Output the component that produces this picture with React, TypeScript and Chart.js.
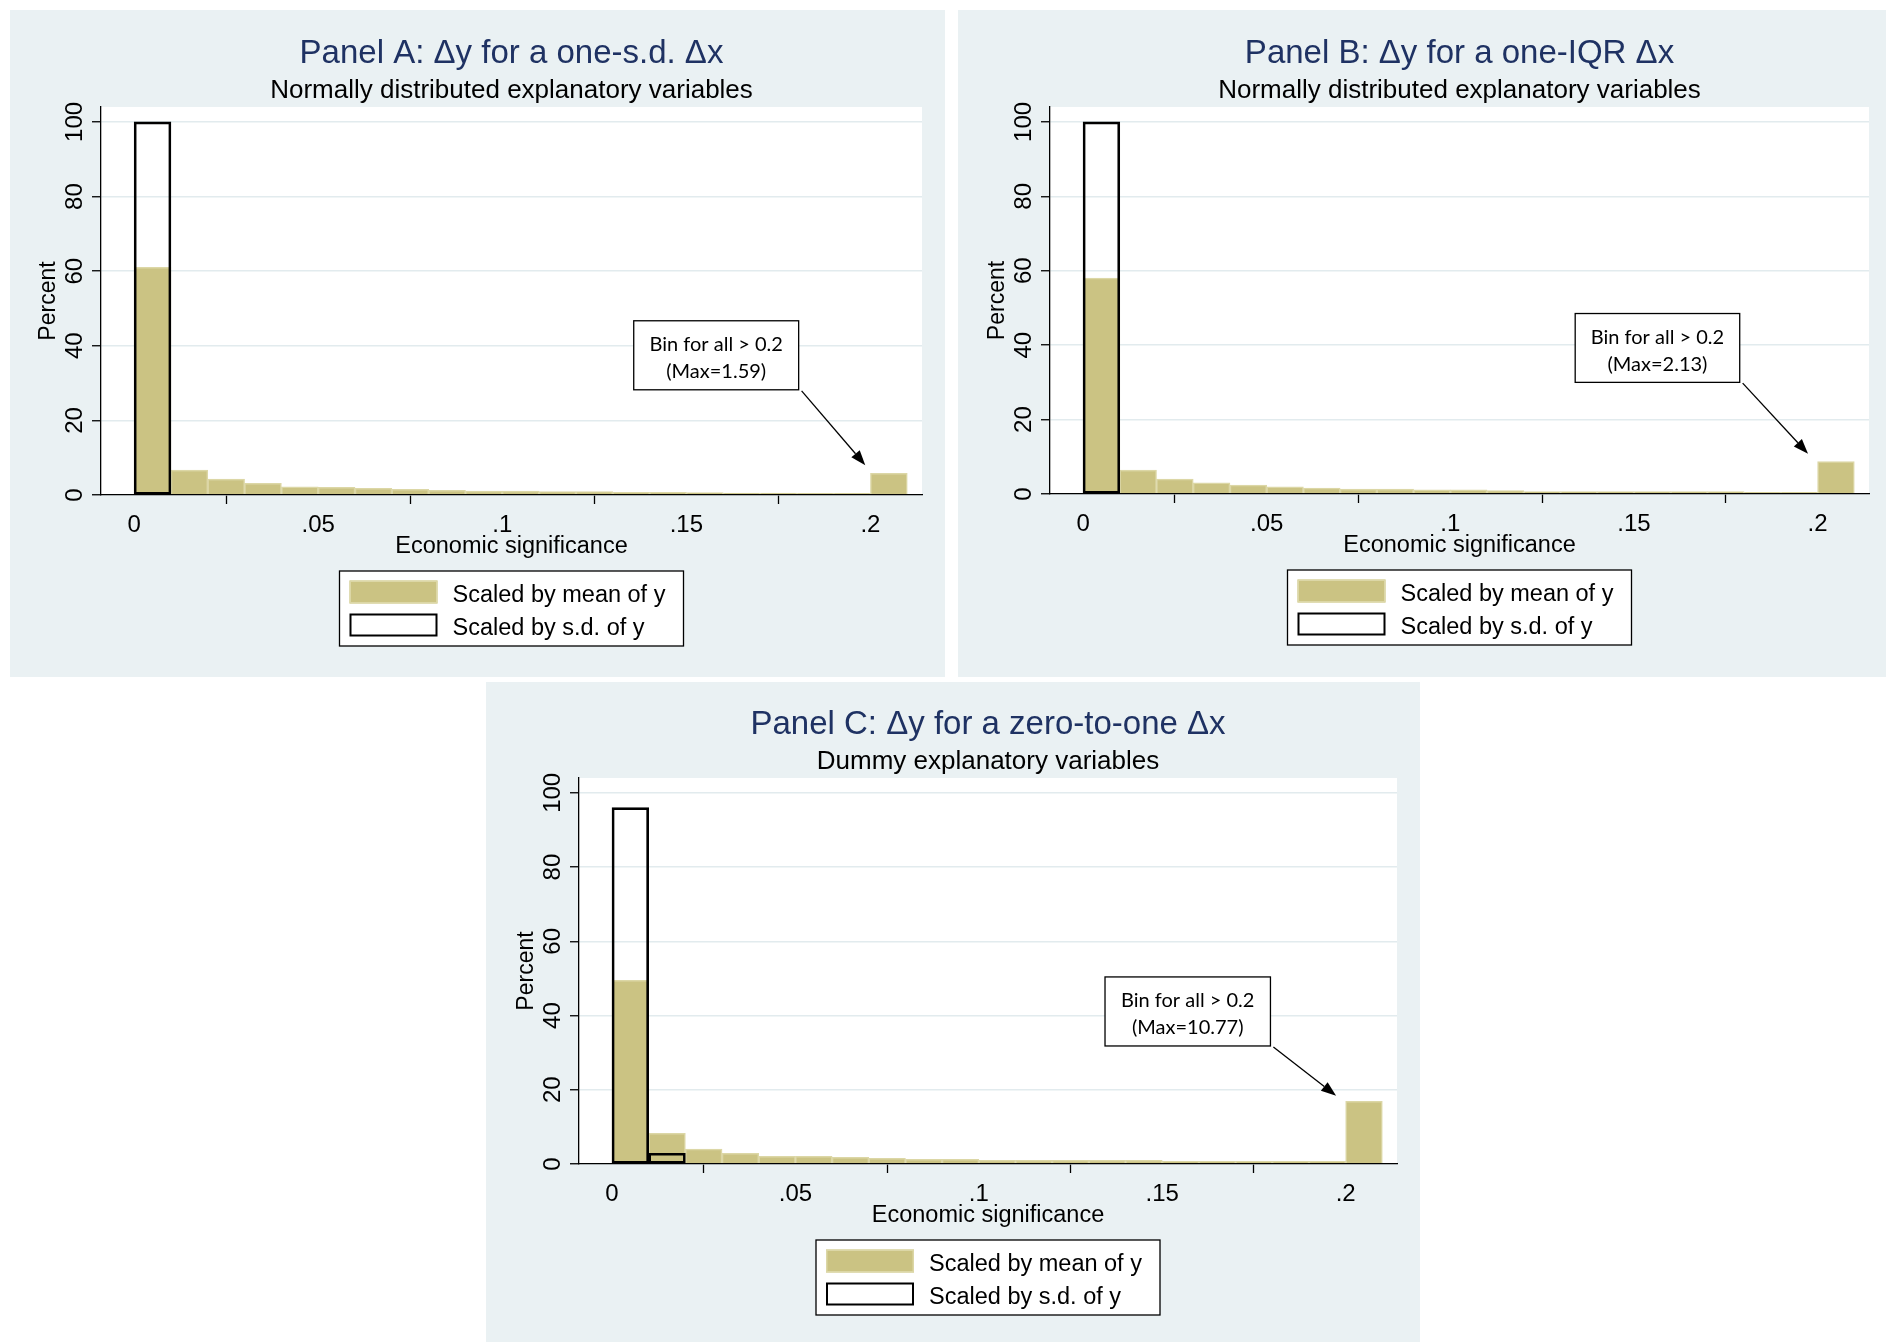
import React, { useEffect, useRef } from "react";
import { Chart, registerables } from "chart.js";

Chart.register(...registerables);

// ---------- data ----------
const binLower = [
  0, 0.01, 0.02, 0.03, 0.04, 0.05, 0.06, 0.07, 0.08, 0.09, 0.1,
  0.11, 0.12, 0.13, 0.14, 0.15, 0.16, 0.17, 0.18, 0.19, 0.2,
];
const BIN_WIDTH = 0.01;

const xTickValues = [0, 0.05, 0.1, 0.15, 0.2];
const xTickLabels = ["0", ".05", ".1", ".15", ".2"];
const yTickValues = [0, 20, 40, 60, 80, 100];
const yTickLabels = ["0", "20", "40", "60", "80", "100"];

const panelAMean = [61, 6.7, 4.3, 3.1, 2.2, 2.05, 1.8, 1.5, 1.25, 1.07, 1.07, 0.9, 0.9, 0.7, 0.7, 0.63, 0.54, 0.54, 0.45, 0.45, 5.8];
const panelASd = [100, 0, 0, 0, 0, 0, 0, 0, 0, 0, 0, 0, 0, 0, 0, 0, 0, 0, 0, 0, 0];

const panelBMean = [58, 6.45, 4.0, 3.0, 2.4, 1.9, 1.6, 1.35, 1.35, 1.15, 1.15, 0.9, 0.63, 0.63, 0.63, 0.63, 0.63, 0.63, 0.45, 0.45, 8.7];
const panelBSd = [100, 0, 0, 0, 0, 0, 0, 0, 0, 0, 0, 0, 0, 0, 0, 0, 0, 0, 0, 0, 0];

const panelCMean = [49.5, 8.25, 4.0, 2.9, 2.05, 2.05, 1.8, 1.5, 1.26, 1.26, 1.0, 1.0, 1.0, 1.0, 1.0, 0.72, 0.72, 0.72, 0.72, 0.72, 16.9];
const panelCSd = [96, 2.9, 0, 0, 0, 0, 0, 0, 0, 0, 0, 0, 0, 0, 0, 0, 0, 0, 0, 0, 0];

const legendLabels = ["Scaled by mean of y", "Scaled by s.d. of y"];

// ---------- styles ----------
const PANEL_BG = "#eaf1f3";
const GRID = "#e2ebee";
const KHAKI = "#cbc383";
const KHAKI_EDGE = "#dcd7a6";
const NAVY = "#1f3263";
const SANS = '"Liberation Sans", Arial, sans-serif';
const NOTE_FONT = 'Lato, "Liberation Sans", sans-serif';
const X_MIN = -0.009;
const X_MAX = 0.214;
const Y_MAX = 104;

type PanelSpec = {
  key: string;
  left: number;
  top: number;
  width: number;
  height: number;
  area: { left: number; top: number; right: number; bottom: number };
  title: string;
  subtitle: string;
  mean: number[];
  sd: number[];
  note: string[];
  noteBox: [number, number, number, number]; // x1, yTop, x2, yBottom (data units)
  arrowFrom: [number, number];
  arrowTo: [number, number];
};

const panels: PanelSpec[] = [
  {
    key: "A",
    left: 10, top: 10, width: 935, height: 667,
    area: { left: 91, top: 97, right: 912, bottom: 485 },
    title: "Panel A: \u0394y for a one-s.d. \u0394x",
    subtitle: "Normally distributed explanatory variables",
    mean: panelAMean,
    sd: panelASd,
    note: ["Bin for all > 0.2", "(Max=1.59)"],
    noteBox: [0.1357, 46.7, 0.1805, 28.2],
    arrowFrom: [0.1813, 27.9],
    arrowTo: [0.1986, 8.0],
  },
  {
    key: "B",
    left: 958, top: 10, width: 928, height: 667,
    area: { left: 92, top: 97, right: 911, bottom: 484 },
    title: "Panel B: \u0394y for a one-IQR \u0394x",
    subtitle: "Normally distributed explanatory variables",
    mean: panelBMean,
    sd: panelBSd,
    note: ["Bin for all > 0.2", "(Max=2.13)"],
    noteBox: [0.134, 48.5, 0.1788, 30.0],
    arrowFrom: [0.1796, 29.8],
    arrowTo: [0.1974, 10.8],
  },
  {
    key: "C",
    left: 486, top: 682, width: 934, height: 660,
    area: { left: 93, top: 96, right: 911, bottom: 482 },
    title: "Panel C: \u0394y for a zero-to-one \u0394x",
    subtitle: "Dummy explanatory variables",
    mean: panelCMean,
    sd: panelCSd,
    note: ["Bin for all > 0.2", "(Max=10.77)"],
    noteBox: [0.1344, 50.4, 0.1795, 31.8],
    arrowFrom: [0.1803, 31.5],
    arrowTo: [0.1974, 18.4],
  },
];

function makeDecor(spec: PanelSpec) {
  return {
    id: "decor" + spec.key,
    beforeDraw(chart: any) {
      const { ctx, chartArea: ca } = chart;
      ctx.save();
      ctx.fillStyle = PANEL_BG;
      ctx.fillRect(0, 0, chart.width, chart.height);
      ctx.fillStyle = "#ffffff";
      ctx.fillRect(ca.left, ca.top, ca.right - ca.left, ca.bottom - ca.top);
      ctx.restore();
    },
    afterDraw(chart: any) {
      const { ctx, chartArea: ca } = chart;
      const xs = chart.scales.x;
      const ys = chart.scales.y;
      const cx = (ca.left + ca.right) / 2;
      ctx.save();

      // titles
      ctx.textAlign = "center";
      ctx.textBaseline = "alphabetic";
      ctx.fillStyle = NAVY;
      ctx.font = `33px ${SANS}`;
      ctx.fillText(spec.title, cx, ca.top - 44);
      ctx.fillStyle = "#000";
      ctx.font = `26px ${SANS}`;
      ctx.fillText(spec.subtitle, cx, ca.top - 9);

      // x tick labels
      ctx.font = `24px ${SANS}`;
      xTickValues.forEach((v, i) => {
        ctx.fillText(xTickLabels[i], xs.getPixelForValue(v), ca.bottom + 37);
      });
      // x title
      ctx.font = `23.5px ${SANS}`;
      ctx.fillText("Economic significance", cx, ca.bottom + 58);

      // y tick labels (rotated)
      ctx.font = `24px ${SANS}`;
      yTickValues.forEach((v, i) => {
        ctx.save();
        ctx.translate(ca.left - 19, ys.getPixelForValue(v));
        ctx.rotate(-Math.PI / 2);
        ctx.fillText(yTickLabels[i], 0, 0);
        ctx.restore();
      });
      // y title
      ctx.save();
      ctx.translate(ca.left - 46, (ca.top + ca.bottom) / 2);
      ctx.rotate(-Math.PI / 2);
      ctx.font = `23px ${SANS}`;
      ctx.fillText("Percent", 0, 0);
      ctx.restore();

      // annotation box
      const bx1 = xs.getPixelForValue(spec.noteBox[0]);
      const by1 = ys.getPixelForValue(spec.noteBox[1]);
      const bx2 = xs.getPixelForValue(spec.noteBox[2]);
      const by2 = ys.getPixelForValue(spec.noteBox[3]);
      ctx.fillStyle = "#fff";
      ctx.fillRect(bx1, by1, bx2 - bx1, by2 - by1);
      ctx.strokeStyle = "#000";
      ctx.lineWidth = 1.3;
      ctx.strokeRect(bx1, by1, bx2 - bx1, by2 - by1);
      ctx.fillStyle = "#000";
      ctx.font = `20px ${NOTE_FONT}`;
      ctx.textAlign = "center";
      ctx.fillText(spec.note[0], (bx1 + bx2) / 2, by1 + 30);
      ctx.fillText(spec.note[1], (bx1 + bx2) / 2, by1 + 57);

      // arrow
      const ax1 = xs.getPixelForValue(spec.arrowFrom[0]);
      const ay1 = ys.getPixelForValue(spec.arrowFrom[1]);
      const ax2 = xs.getPixelForValue(spec.arrowTo[0]);
      const ay2 = ys.getPixelForValue(spec.arrowTo[1]);
      const ang = Math.atan2(ay2 - ay1, ax2 - ax1);
      const headLen = 15;
      const headHalf = 5.5;
      const bx = ax2 - headLen * Math.cos(ang);
      const by = ay2 - headLen * Math.sin(ang);
      ctx.beginPath();
      ctx.moveTo(ax1, ay1);
      ctx.lineTo(bx, by);
      ctx.lineWidth = 1.3;
      ctx.stroke();
      ctx.beginPath();
      ctx.moveTo(ax2, ay2);
      ctx.lineTo(bx + headHalf * Math.sin(ang), by - headHalf * Math.cos(ang));
      ctx.lineTo(bx - headHalf * Math.sin(ang), by + headHalf * Math.cos(ang));
      ctx.closePath();
      ctx.fill();

      // legend
      const lw = 344;
      const lh = 75;
      const lx = cx - lw / 2;
      const ly = ca.bottom + 76;
      ctx.fillStyle = "#fff";
      ctx.fillRect(lx, ly, lw, lh);
      ctx.strokeStyle = "#000";
      ctx.lineWidth = 1.3;
      ctx.strokeRect(lx, ly, lw, lh);
      // swatch 1
      ctx.fillStyle = KHAKI;
      ctx.fillRect(lx + 10, ly + 9.5, 88, 23);
      ctx.strokeStyle = KHAKI_EDGE;
      ctx.lineWidth = 1.5;
      ctx.strokeRect(lx + 10.75, ly + 10.25, 86.5, 21.5);
      // swatch 2
      ctx.fillStyle = "#fff";
      ctx.fillRect(lx + 10, ly + 42.5, 88, 23);
      ctx.strokeStyle = "#000";
      ctx.lineWidth = 2;
      ctx.strokeRect(lx + 11, ly + 43.5, 86, 21);
      ctx.fillStyle = "#000";
      ctx.textAlign = "left";
      ctx.font = `23.5px ${SANS}`;
      ctx.fillText(legendLabels[0], lx + 113, ly + 31);
      ctx.fillText(legendLabels[1], lx + 113, ly + 64);

      ctx.restore();
    },
  };
}

function Panel({ spec }: { spec: PanelSpec }) {
  const ref = useRef<HTMLCanvasElement>(null);
  useEffect(() => {
    const canvas = ref.current;
    if (!canvas) return;
    const a = spec.area;
    const toPoints = (vals: number[]) =>
      binLower.map((b, i) => ({ x: b + BIN_WIDTH / 2, y: vals[i] === 0 ? null : vals[i] }));
    const chart = new Chart(canvas, {
      type: "bar",
      data: {
        datasets: [
          {
            label: legendLabels[1],
            data: toPoints(spec.sd) as any,
            backgroundColor: "rgba(0,0,0,0)",
            borderColor: "#000",
            borderWidth: 2,
            borderSkipped: false,
            grouped: false,
            order: 0,
            barPercentage: 1,
            categoryPercentage: 1,
          } as any,
          {
            label: legendLabels[0],
            data: toPoints(spec.mean) as any,
            backgroundColor: KHAKI,
            borderColor: KHAKI_EDGE,
            borderWidth: 1.5,
            borderSkipped: "bottom",
            grouped: false,
            order: 1,
            barPercentage: 1,
            categoryPercentage: 1,
          } as any,
        ],
      },
      options: {
        responsive: false,
        animation: false,
        events: [],
        layout: {
          padding: {
            left: a.left,
            top: a.top,
            right: spec.width - a.right,
            bottom: spec.height - a.bottom,
          },
        },
        plugins: {
          legend: { display: false },
          tooltip: { enabled: false },
          title: { display: false },
        },
        scales: {
          x: {
            type: "linear",
            min: X_MIN,
            max: X_MAX,
            offset: false,
            afterBuildTicks: (s: any) => {
              s.ticks = xTickValues.map((v) => ({ value: v }));
            },
            afterFit: (s: any) => {
              s.height = 0;
            },
            ticks: { display: false },
            grid: {
              display: true,
              drawOnChartArea: false,
              drawTicks: true,
              tickLength: 9,
              tickColor: "#000",
              tickWidth: 1.3,
            },
            border: { display: true, color: "#000", width: 1.3, z: 1 },
          },
          y: {
            type: "linear",
            min: 0,
            max: Y_MAX,
            afterBuildTicks: (s: any) => {
              s.ticks = yTickValues.map((v) => ({ value: v }));
            },
            afterFit: (s: any) => {
              s.width = 0;
            },
            ticks: { display: false },
            grid: {
              display: true,
              color: GRID,
              lineWidth: 1.5,
              drawTicks: true,
              tickLength: 9,
              tickColor: "#000",
              tickWidth: 1.3,
            },
            border: { display: true, color: "#000", width: 1.3, z: 1 },
          },
        },
      } as any,
      plugins: [makeDecor(spec) as any],
    });
    return () => chart.destroy();
  }, [spec]);

  return (
    <div
      style={{
        position: "absolute",
        left: spec.left,
        top: spec.top,
        width: spec.width,
        height: spec.height,
        background: PANEL_BG,
      }}
    >
      <canvas
        ref={ref}
        width={spec.width}
        height={spec.height}
        style={{ display: "block", width: spec.width, height: spec.height }}
      />
    </div>
  );
}

export default function App() {
  return (
    <div
      style={{
        position: "absolute",
        left: 0,
        top: 0,
        width: 1886,
        height: 1342,
        background: "#ffffff",
        overflow: "hidden",
      }}
    >
      {panels.map((p) => (
        <Panel key={p.key} spec={p} />
      ))}
    </div>
  );
}
